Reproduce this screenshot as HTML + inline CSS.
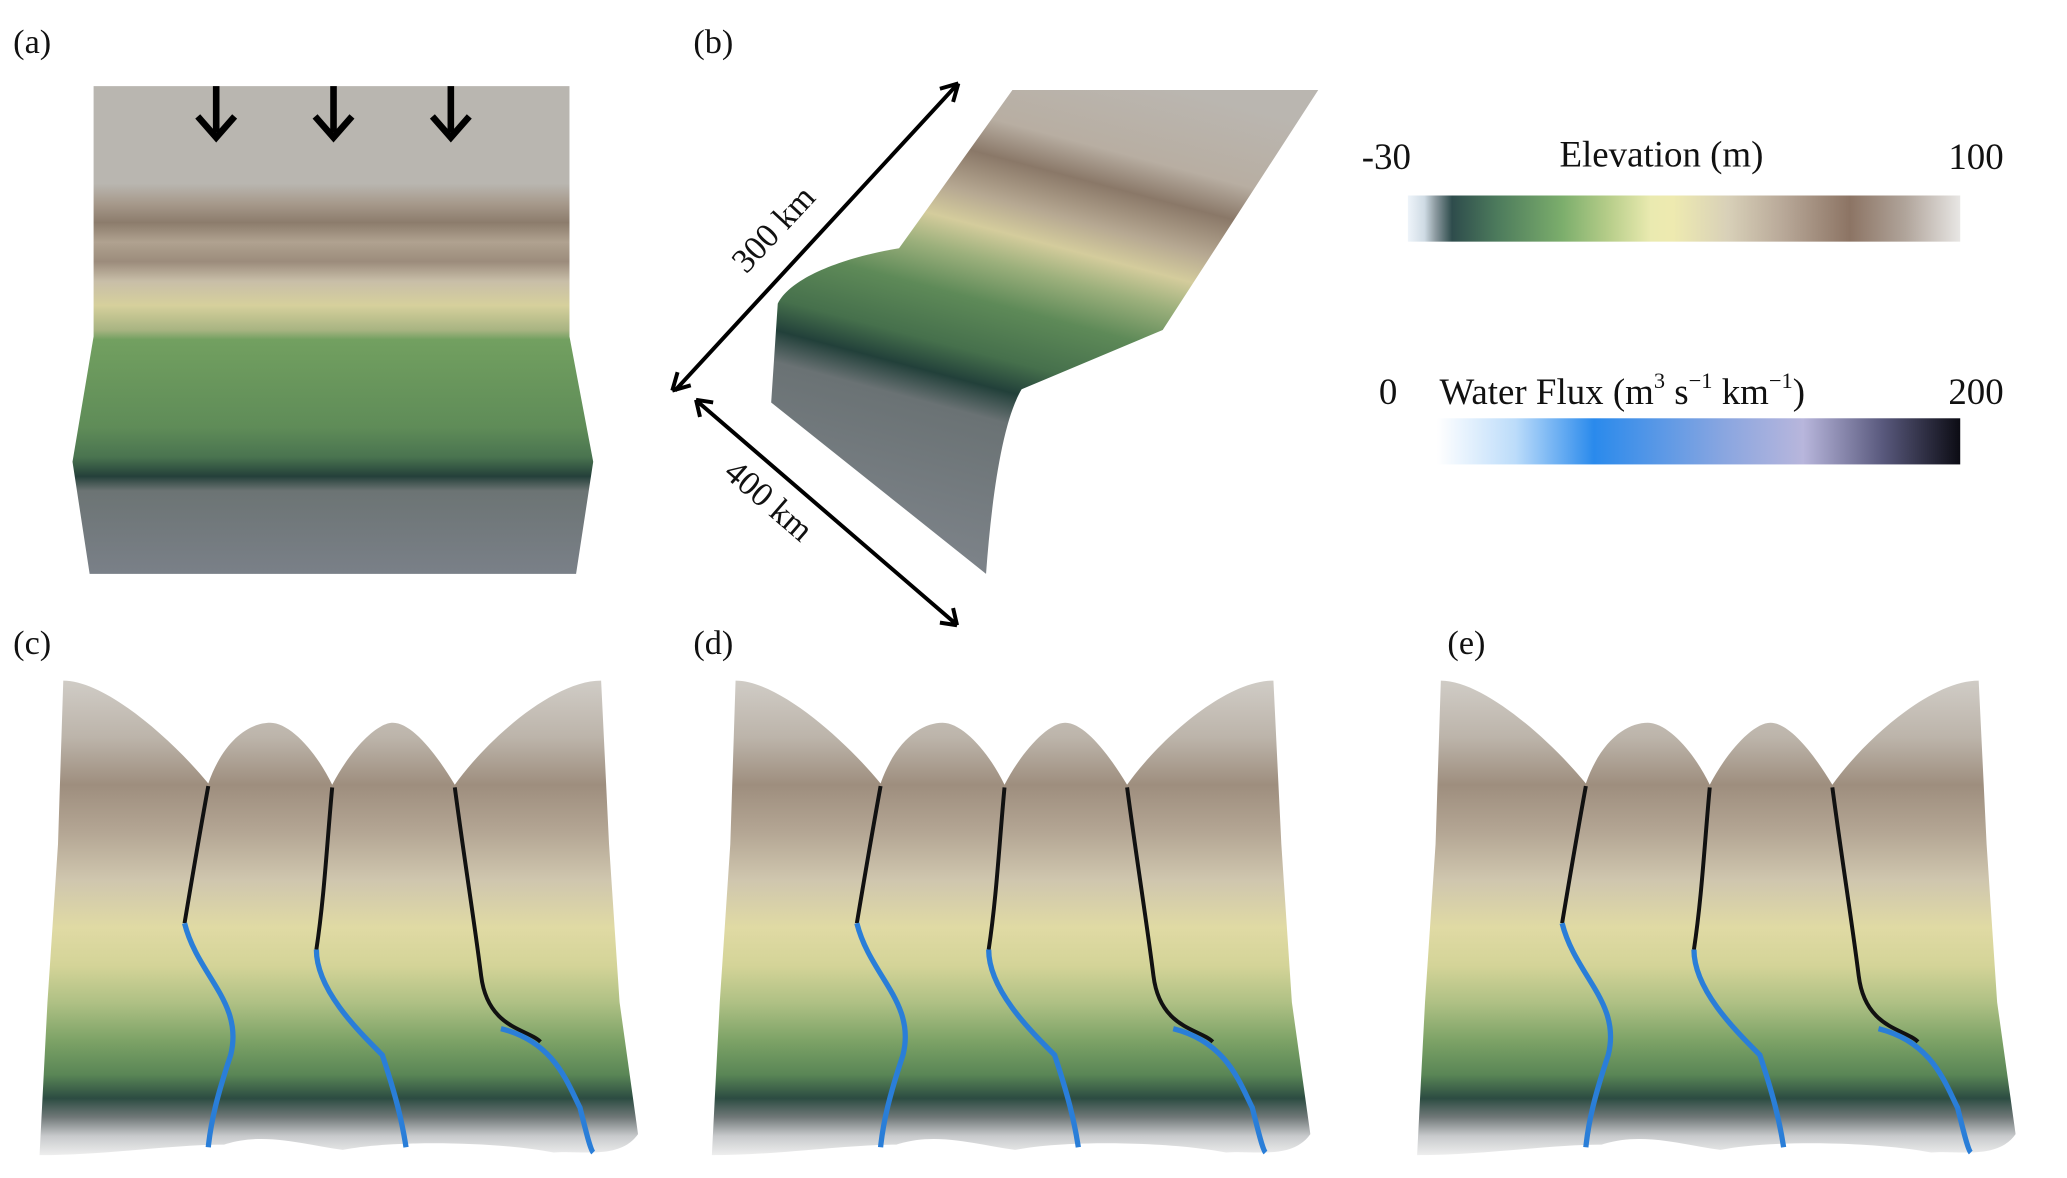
<!DOCTYPE html>
<html><head><meta charset="utf-8"><style>
html,body{margin:0;padding:0;background:#fff;}
svg{display:block;}
text{font-family:"Liberation Serif",serif;fill:#111;}
</style></head><body>
<svg width="2067" height="1178" viewBox="0 0 1568 893" xmlns="http://www.w3.org/2000/svg">
<defs>
<linearGradient id="ga" x1="0" y1="0" x2="0" y2="1">
<stop offset="0" stop-color="#b9b6b0"/><stop offset="0.2" stop-color="#b9b6b0"/>
<stop offset="0.24" stop-color="#a79a8c"/><stop offset="0.28" stop-color="#8c7c6c"/>
<stop offset="0.32" stop-color="#b0a290"/><stop offset="0.36" stop-color="#9c8c7c"/>
<stop offset="0.4" stop-color="#c8bea8"/><stop offset="0.45" stop-color="#d6d09c"/>
<stop offset="0.5" stop-color="#a8b482"/><stop offset="0.52" stop-color="#72a060"/>
<stop offset="0.7" stop-color="#5f8c58"/><stop offset="0.76" stop-color="#4a7450"/>
<stop offset="0.8" stop-color="#24403a"/><stop offset="0.83" stop-color="#6c7474"/>
<stop offset="1" stop-color="#7a8088"/>
</linearGradient>
<linearGradient id="gb" x1="0.75" y1="0" x2="0.45" y2="1">
<stop offset="0" stop-color="#bab6b0"/><stop offset="0.15" stop-color="#b8aea2"/>
<stop offset="0.22" stop-color="#8a7868"/><stop offset="0.3" stop-color="#b6a892"/>
<stop offset="0.36" stop-color="#d4cc9c"/><stop offset="0.42" stop-color="#9cb07c"/>
<stop offset="0.5" stop-color="#5e8a58"/><stop offset="0.6" stop-color="#46704c"/>
<stop offset="0.66" stop-color="#22403a"/><stop offset="0.72" stop-color="#6a7274"/>
<stop offset="1" stop-color="#7c8288"/>
</linearGradient>
<linearGradient id="gt" x1="0" y1="0" x2="0" y2="1">
<stop offset="0" stop-color="#d0ccc6"/><stop offset="0.12" stop-color="#bcb4aa"/>
<stop offset="0.22" stop-color="#9e8e7e"/><stop offset="0.32" stop-color="#b4a694"/>
<stop offset="0.42" stop-color="#cfc6ae"/><stop offset="0.52" stop-color="#e0daa4"/>
<stop offset="0.6" stop-color="#d4d498"/><stop offset="0.68" stop-color="#aec084"/>
<stop offset="0.76" stop-color="#7ca266"/><stop offset="0.83" stop-color="#5a8656"/>
<stop offset="0.88" stop-color="#2c4c42"/><stop offset="0.92" stop-color="#707878"/>
<stop offset="0.96" stop-color="#c8cacc"/><stop offset="1" stop-color="#eeeeee"/>
</linearGradient>
<linearGradient id="ge" x1="0" y1="0" x2="1" y2="0">
<stop offset="0" stop-color="#eef4fa"/><stop offset="0.03" stop-color="#cfdbe4"/>
<stop offset="0.05" stop-color="#8c9aa0"/><stop offset="0.08" stop-color="#2e4c4c"/>
<stop offset="0.16" stop-color="#4c7a5c"/><stop offset="0.28" stop-color="#7cae6c"/>
<stop offset="0.36" stop-color="#b4cc88"/><stop offset="0.44" stop-color="#eaeab0"/>
<stop offset="0.48" stop-color="#eeeab0"/><stop offset="0.58" stop-color="#d8d0b8"/>
<stop offset="0.68" stop-color="#b8a898"/><stop offset="0.8" stop-color="#8c7464"/>
<stop offset="0.9" stop-color="#b0a49a"/><stop offset="1" stop-color="#e8e6e4"/>
</linearGradient>
<linearGradient id="gw" x1="0" y1="0" x2="1" y2="0">
<stop offset="0" stop-color="#ffffff"/><stop offset="0.15" stop-color="#bcdcfa"/>
<stop offset="0.3" stop-color="#2a8aec"/><stop offset="0.55" stop-color="#8aa6e0"/>
<stop offset="0.7" stop-color="#b8b6dc"/><stop offset="0.85" stop-color="#5a5a7e"/>
<stop offset="1" stop-color="#0c0c14"/>
</linearGradient>
<g id="terrain">
<path d="M48,516 C80,516 130,560 158,594 C170,560 190,548 205,548 C220,548 240,570 252,595 C265,570 285,548 298,548 C312,548 330,570 345,595 C370,560 420,516 456,516 L462,640 L470,760 L484,860 C470,880 440,872 420,874 C380,866 300,864 260,872 C230,868 200,858 170,868 C130,868 80,876 30,876 L36,760 L44,640 Z" fill="url(#gt)"/>
<path d="M158,596 C150,640 145,670 140,700" stroke="#111" stroke-width="3" fill="none"/>
<path d="M140,700 C150,740 185,760 175,800 C165,830 160,850 158,870" stroke="#2a7ed8" stroke-width="4" fill="none"/>
<path d="M252,597 C248,640 246,680 240,720" stroke="#111" stroke-width="3" fill="none"/>
<path d="M240,720 C240,750 270,780 290,800 C300,830 305,850 308,870" stroke="#2a7ed8" stroke-width="4" fill="none"/>
<path d="M345,597 C352,650 360,700 365,740 C370,780 400,780 410,790" stroke="#111" stroke-width="3" fill="none"/>
<path d="M380,780 C420,790 430,820 440,840 C445,860 448,872 450,874" stroke="#2a7ed8" stroke-width="4" fill="none"/>
</g>
</defs>

<text x="10" y="40" font-size="26">(a)</text>
<text x="526" y="40" font-size="26">(b)</text>
<text x="10" y="496" font-size="26">(c)</text>
<text x="526" y="496" font-size="26">(d)</text>
<text x="1098" y="496" font-size="26">(e)</text>

<path d="M71,65 L432,65 L432,255 L450,350 L437,435 L68,435 L55,350 L71,255 Z" fill="url(#ga)"/>
<g stroke="#000" stroke-width="5" fill="none">
<path d="M164,65 V100 M150,88 L164,104 L178,88"/>
<path d="M253,65 V100 M239,88 L253,104 L267,88"/>
<path d="M342,65 V100 M328,88 L342,104 L356,88"/>
</g>

<path d="M768,68 L1000,68 L882,250 L775,295 C760,320 752,380 748,435 L585,305 L590,230 C600,210 640,195 682,188 Z" fill="url(#gb)"/>
<g stroke="#000" stroke-width="3" fill="none">
<path d="M512,296 L725,65 M510,296 l4,-14 M510,296 l14,-4 M727,63 l-4,14 M727,63 l-14,4"/>
<path d="M530,305 L724,472 M528,303 l13,2 M528,303 l3,13 M726,474 l-13,-2 M726,474 l-3,-13"/>
</g>
<text x="0" y="0" font-size="26" transform="translate(566,208) rotate(-47)">300 km</text>
<text x="0" y="0" font-size="26" transform="translate(548,360) rotate(41)">400 km</text>

<text x="1033" y="128" font-size="28">-30</text>
<text x="1183" y="126" font-size="28">Elevation (m)</text>
<text x="1478" y="128" font-size="28">100</text>
<rect x="1068" y="148" width="419" height="35" fill="url(#ge)"/>
<text x="1046" y="306" font-size="28">0</text>
<text x="1092" y="306" font-size="28">Water Flux (m<tspan font-size="17" dy="-12">3</tspan><tspan dy="12"> s</tspan><tspan font-size="17" dy="-12">−1</tspan><tspan dy="12"> km</tspan><tspan font-size="17" dy="-12">−1</tspan><tspan dy="12">)</tspan></text>
<text x="1478" y="306" font-size="28">200</text>
<rect x="1090" y="317" width="397" height="35" fill="url(#gw)"/>

<use href="#terrain"/>
<use href="#terrain" transform="translate(510,0)"/>
<use href="#terrain" transform="translate(1045,0)"/>
</svg>
</body></html>
